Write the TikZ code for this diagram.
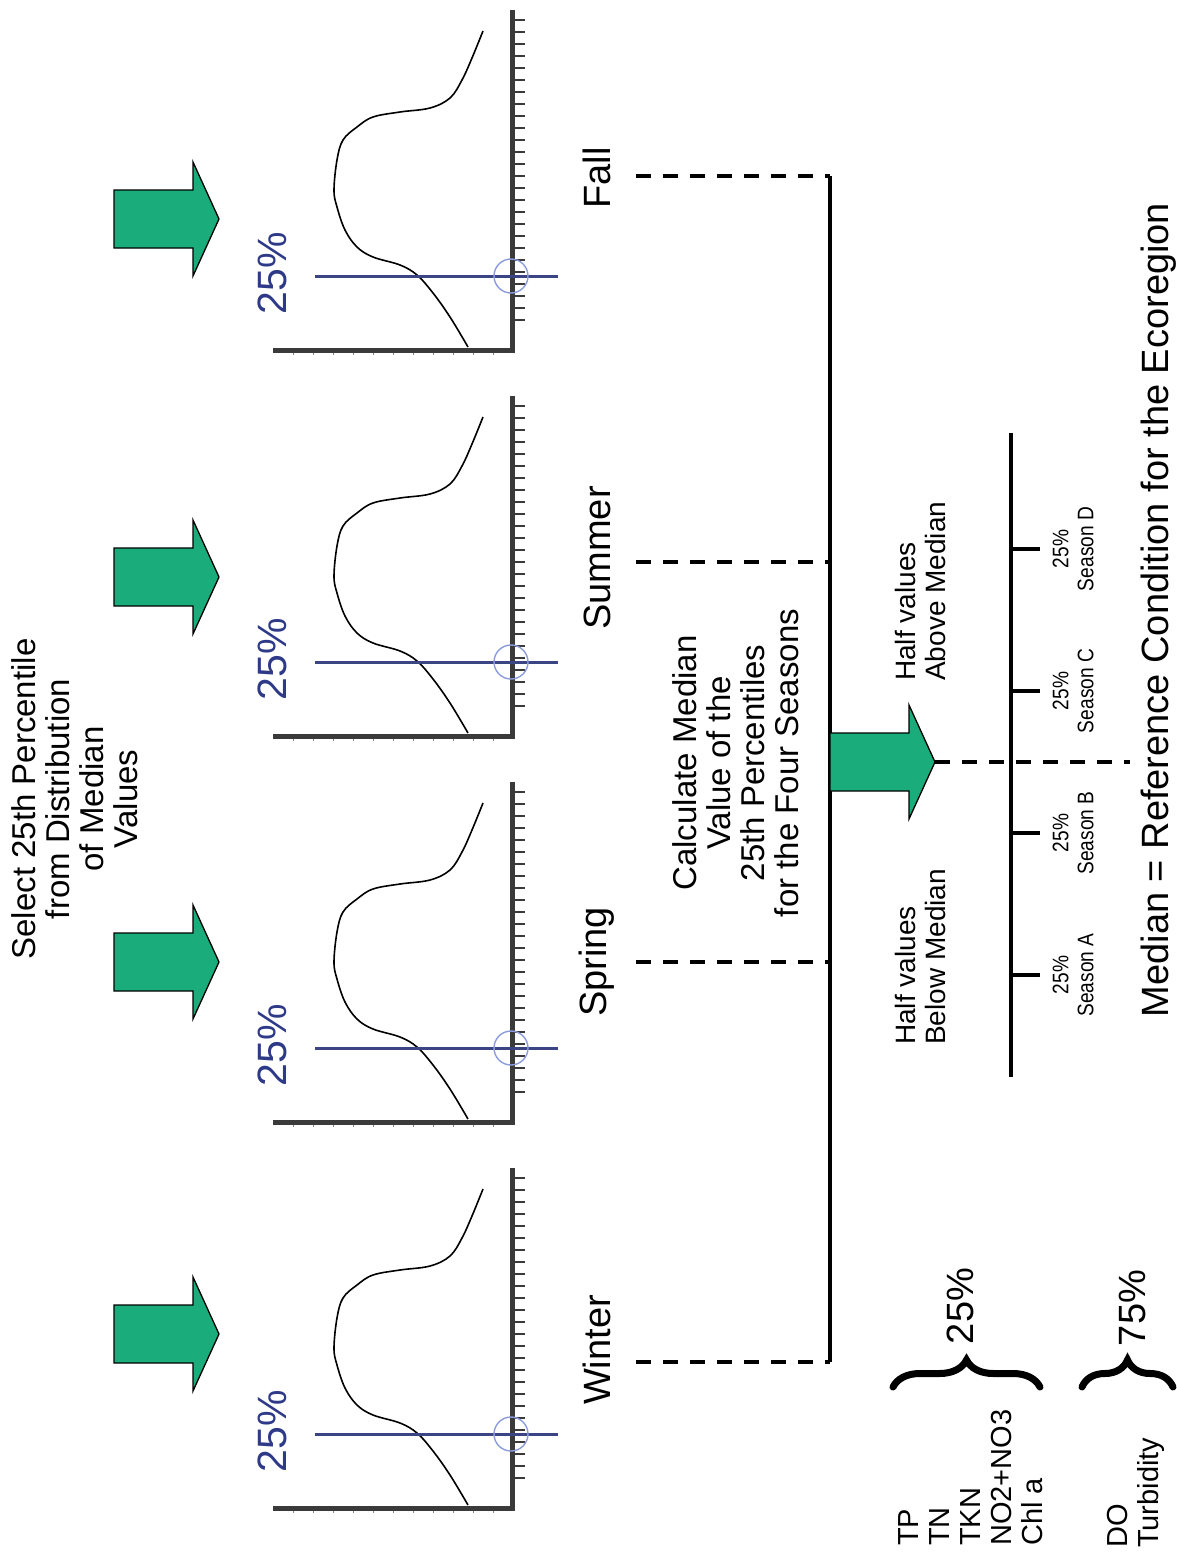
\documentclass[tikz,border=0pt]{standalone}
\usepackage{fontspec}
\setmainfont{Liberation Sans}
\newfontfamily\narrowfont[FakeStretch=0.85]{Liberation Sans}
\usetikzlibrary{decorations.pathreplacing}
\definecolor{arrowgreen}{HTML}{1BAC7B}
\definecolor{pctnavy}{HTML}{2E3A88}
\definecolor{lineblue}{HTML}{3C4584}
\definecolor{ringblue}{HTML}{8C9CDC}
\definecolor{axisgray}{HTML}{3A3A3A}
\tikzset{
  axisline/.style={draw=axisgray, line width=5pt},
  tickline/.style={draw=axisgray, line width=1.6pt},
  curveline/.style={draw=black, line width=1.6pt},
  pctline/.style={draw=lineblue, line width=3pt},
  ringline/.style={draw=ringblue, line width=1.4pt},
  arrowbody/.style={fill=arrowgreen, draw=black, line width=1.3pt, line join=miter},
  dashline/.style={draw=black, line width=3.2pt, dash pattern=on 15pt off 12pt},
  barline/.style={draw=black, line width=3.5pt},
  medaxis/.style={draw=black, line width=4pt},
  bracestyle/.style={draw=black, line width=7pt, line cap=round, decorate, decoration={brace, amplitude=27pt}},
  rotlbl/.style={rotate=90, inner sep=0pt},
  pctlbl/.style={rotate=90, inner sep=0pt, text=pctnavy, font=\fontsize{41}{44}\selectfont},
  seasonlbl/.style={rotate=90, inner sep=0pt, font=\fontsize{38}{40}\selectfont},
  smalllbl/.style={rotate=90, inner sep=0pt, align=center, font=\narrowfont\fontsize{22.5}{25}\selectfont},
  garrow/.pic={
    \path[arrowbody] (0,0) -- (-26,-57) -- (-26,-29) -- (-105,-29) -- (-105,29) -- (-26,29) -- (-26,57) -- cycle;
  },
  chart/.pic={
    \path[axisline] (-239,0) -- (0,0) -- (0,-340);
    \foreach \k in {0,...,25} { \path[tickline] (0,-330+12*\k) -- (13,-330+12*\k); }
    \foreach \k in {1,...,11} { \path[draw=gray, line width=0.8pt] (-239+20*\k,2.5) -- (-239+20*\k,5); }
    \path[curveline] plot[smooth, tension=0.6] coordinates {
      (-44,-3) (-62,-33) (-79,-57) (-95,-75) (-112,-85) (-139,-93) (-155,-103)
      (-167,-120) (-175,-143) (-178,-160) (-175,-190) (-169,-210) (-155,-223)
      (-139,-233) (-112,-238) (-82,-242) (-62,-252) (-50,-270) (-40,-292) (-29,-319)};
    \path[pctline] (-197,-74) -- (46,-74);
    \path[ringline] (-1,-74) circle[radius=17];
  }
}
\begin{document}
\begin{tikzpicture}[x=1pt, y=-1pt]
\useasboundingbox (0,0) rectangle (1176,1558);
\fill[white] (0,0) rectangle (1176,1558);

% title
\node[rotlbl, align=center, font=\fontsize{33}{34}\selectfont] (title) at (75,799)
  {Select 25th Percentile\\from Distribution\\of Median\\Values};

% green arrows
\pic (arFall) at (219,219) {garrow};
\pic (arSummer) at (219,577) {garrow};
\pic (arSpring) at (219,962) {garrow};
\pic (arWinter) at (219,1334) {garrow};

% charts
\pic (chFall) at (512,350) {chart};
\pic (chSummer) at (512,736) {chart};
\pic (chSpring) at (512,1122) {chart};
\pic (chWinter) at (512,1508) {chart};

\node[pctlbl] (pFall) at (272,273) {25\%};
\node[pctlbl] (pSummer) at (272,659) {25\%};
\node[pctlbl] (pSpring) at (272,1045) {25\%};
\node[pctlbl] (pWinter) at (272,1431) {25\%};

% season labels
\node[seasonlbl] (fall) at (597,178) {Fall};
\node[seasonlbl] (summer) at (597,558) {Summer};
\node[seasonlbl] (spring) at (597,962) {Spring};
\node[seasonlbl] (winter) at (597,1350) {Winter};

\coordinate (fallA) at (636,176);   \coordinate (fallB) at (830,176);
\coordinate (summerA) at (636,562); \coordinate (summerB) at (830,562);
\coordinate (springA) at (636,962); \coordinate (springB) at (830,962);
\coordinate (winterA) at (636,1362);\coordinate (winterB) at (830,1362);

\path[dashline] (fallA) -- (fallB);
\path[dashline] (summerA) -- (summerB);
\path[dashline] (springA) -- (springB);
\path[dashline] (winterA) -- (winterB);
\path[barline] (fallB) -- (winterB);

% calculate text
\node[rotlbl, align=center, font=\fontsize{33}{34}\selectfont] (calc) at (736,763)
  {Calculate Median\\Value of the\\25th Percentiles\\for the Four Seasons};

% middle arrow
\pic (arMid) at (935,762) {garrow};
\coordinate (midTip) at (935,762);
\coordinate (midEnd) at (1130,762);
\path[dashline] (midTip) -- (midEnd);

% half values
\node[rotlbl, anchor=west, align=left, font=\fontsize{28}{30}\selectfont] (below) at (920,1045)
  {Half values\\Below Median};
\node[rotlbl, anchor=west, align=left, font=\fontsize{28}{30}\selectfont] (above) at (920,681)
  {Half values\\Above Median};

% median axis
\coordinate (axTop) at (1011,433);
\coordinate (axBot) at (1011,1077);
\path[medaxis] (axTop) -- (axBot);
\foreach \yy/\s/\nm in {549/D/sD, 691/C/sC, 833/B/sB, 975/A/sA} {
  \path[medaxis] (1011,\yy) -- (1040,\yy);
  \node[smalllbl] (\nm) at (1073,\yy) {25\%\\Season \s};
}

\node[rotlbl, font=\fontsize{38}{40}\selectfont] (medtext) at (1159,610)
  {Median = Reference Condition for the Ecoregion};

% parameter lists
\node[rotlbl, anchor=west, align=left, font=\fontsize{29}{31}\selectfont] (list1) at (971,1546)
  {TP\\TN\\TKN\\NO2+NO3\\Chl a};
\node[rotlbl, anchor=west, align=left, font=\fontsize{29}{31}\selectfont] (list2) at (1136,1548)
  {DO\\Turbidity};

% braces
\path[bracestyle] (893,1387) -- (1040,1387);
\path[bracestyle] (1082,1387) -- (1173,1387);
\node[rotlbl, font=\fontsize{38}{40}\selectfont] (p25) at (960,1306) {25\%};
\node[rotlbl, font=\fontsize{38}{40}\selectfont] (p75) at (1132,1308) {75\%};
\end{tikzpicture}
\end{document}
